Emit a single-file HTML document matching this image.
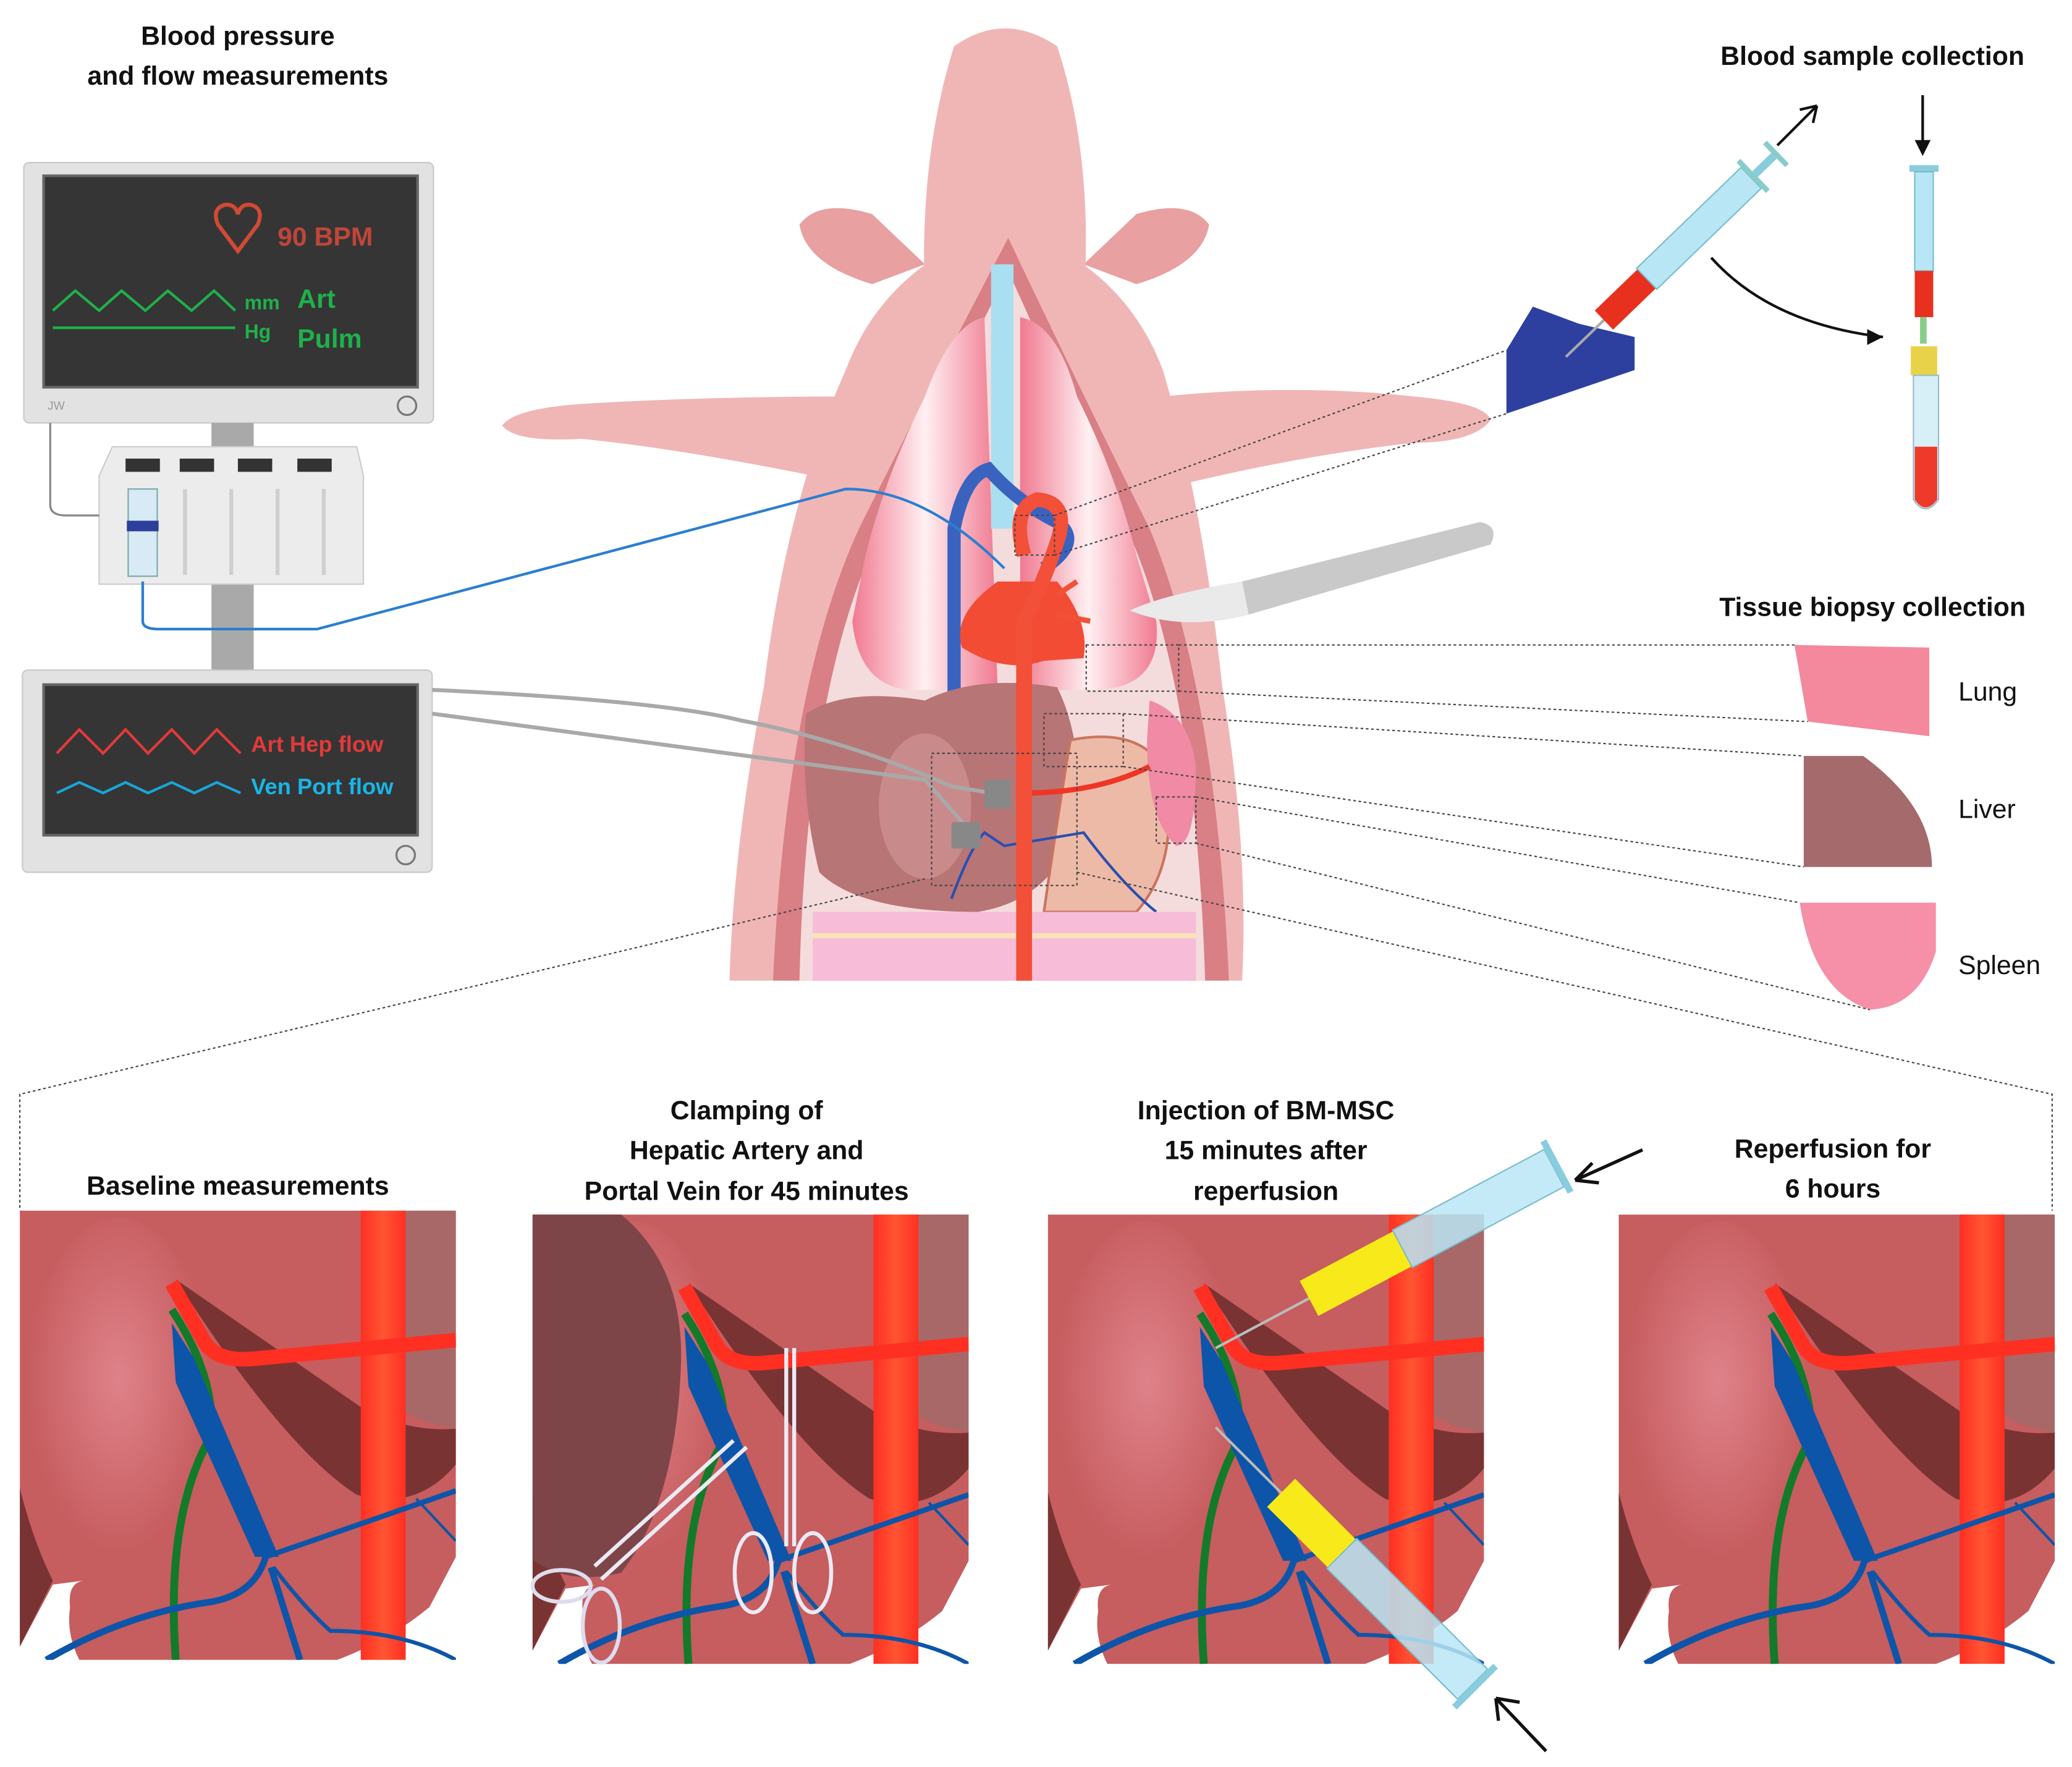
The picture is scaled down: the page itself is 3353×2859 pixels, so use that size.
<!DOCTYPE html>
<html><head><meta charset="utf-8"><style>
html,body{margin:0;padding:0;background:#fff}
svg{display:block}
text{font-family:"Liberation Sans",sans-serif;font-weight:bold;fill:#111}
</style></head><body>
<svg width="3353" height="2859" viewBox="0 0 1568 1337" xmlns="http://www.w3.org/2000/svg">
<defs>
<radialGradient id="lobe" cx="0.5" cy="0.45" r="0.5"><stop offset="0" stop-color="#df828a"/><stop offset="1" stop-color="#c65d5f"/></radialGradient>
<linearGradient id="aor" x1="0" x2="1"><stop offset="0" stop-color="#ff2f22"/><stop offset="0.5" stop-color="#ff5533"/><stop offset="1" stop-color="#ff2f22"/></linearGradient>
<linearGradient id="lung" x1="0" x2="1"><stop offset="0" stop-color="#f07a90"/><stop offset="0.5" stop-color="#fff0f2"/><stop offset="1" stop-color="#f07a90"/></linearGradient>
<clipPath id="pc"><rect x="0" y="0" width="330" height="340"/></clipPath>
<g id="panel" clip-path="url(#pc)">
<path d="M0,0 H330 V262 L310,300 Q280,325 240,340 H45 Q35,320 38,300 Q36,282 48,280 L25,283 L0,330 Z" fill="#c65d5f"/>
<path d="M0,210 Q10,250 25,280 L0,330 Z" fill="#7a3333"/>
<ellipse cx="75" cy="140" rx="70" ry="135" fill="url(#lobe)"/>
<path d="M290,0 H330 V165 Q300,160 290,150 Z" fill="#a86868"/>
<path d="M118,52 L260,150 Q295,168 330,165 V192 Q300,228 255,215 Q200,180 118,52 Z" fill="#7a3333"/>
<rect x="258" y="0" width="34" height="340" fill="url(#aor)"/>
<path d="M115,55 L140,100 Q150,115 178,112 L330,98" stroke="#ff2f22" stroke-width="11" fill="none"/>
<path d="M115,75 Q148,125 145,170 Q110,230 118,340" stroke="#137a2a" stroke-width="6" fill="none"/>
<path d="M115,85 L118,130 L178,262 L196,262 L132,112 Z" fill="#0d55a8"/>
<g stroke="#0d55a8" fill="none">
<path d="M186,262 L330,212" stroke-width="4"/>
<path d="M186,262 Q178,290 145,296 Q80,305 20,340" stroke-width="5"/>
<path d="M190,270 L212,340" stroke-width="5"/>
<path d="M192,270 Q215,300 235,318 Q290,318 330,340" stroke-width="3"/>
<path d="M300,218 L330,250" stroke-width="2"/>
</g>
</g>
</defs>
<rect width="1568" height="1337" fill="#fff"/>

<text x="180" y="34" font-size="20" text-anchor="middle">Blood pressure</text>
<text x="180" y="64" font-size="20" text-anchor="middle">and flow measurements</text>
<text x="1417" y="49" font-size="20" text-anchor="middle">Blood sample collection</text>
<text x="1417" y="466" font-size="20" text-anchor="middle">Tissue biopsy collection</text>
<text x="1482" y="530" font-size="20" style="font-weight:normal">Lung</text>
<text x="1482" y="619" font-size="20" style="font-weight:normal">Liver</text>
<text x="1482" y="737" font-size="20" style="font-weight:normal">Spleen</text>

<!-- monitor 1 -->
<rect x="18" y="123" width="310" height="197" rx="4" fill="#e2e2e2" stroke="#c8c8c8"/>
<rect x="33" y="133" width="283" height="160" fill="#353535" stroke="#666" stroke-width="2"/>
<path d="M180,190 L165,170 Q160,158 170,155 Q178,154 180,162 Q182,154 190,155 Q200,158 195,170 Z" fill="none" stroke="#d04a35" stroke-width="3"/>
<text x="210" y="186" font-size="20" style="fill:#c0453a">90 BPM</text>
<path d="M40,235 L57,220 L75,235 L92,220 L110,235 L127,220 L145,235 L162,220 L178,235" stroke="#1fb14a" stroke-width="2" fill="none"/>
<line x1="40" y1="248" x2="178" y2="248" stroke="#1fb14a" stroke-width="2"/>
<text x="185" y="234" font-size="15" style="fill:#1fb14a">mm</text>
<text x="185" y="256" font-size="15" style="fill:#1fb14a">Hg</text>
<text x="225" y="233" font-size="20" style="fill:#1fb14a">Art</text>
<text x="225" y="263" font-size="20" style="fill:#1fb14a">Pulm</text>
<circle cx="308" cy="307" r="7" fill="none" stroke="#777" stroke-width="1.5"/>
<text x="36" y="310" font-size="9" style="fill:#999;font-weight:normal">JW</text>
<rect x="160" y="320" width="32" height="187" fill="#a9a9a9"/>
<path d="M75,360 L85,338 H270 L275,360 V442 H75 Z" fill="#ececec" stroke="#ccc"/>
<rect x="95" y="347" width="26" height="10" fill="#333"/><rect x="136" y="347" width="26" height="10" fill="#333"/><rect x="180" y="347" width="26" height="10" fill="#333"/><rect x="225" y="347" width="26" height="10" fill="#333"/>
<rect x="97" y="370" width="22" height="66" fill="#d8eaf6" stroke="#7aa" />
<rect x="96" y="394" width="24" height="8" fill="#2c3f9a"/>
<g stroke="#cfcfcf" stroke-width="3"><line x1="140" y1="370" x2="140" y2="435"/><line x1="175" y1="370" x2="175" y2="435"/><line x1="210" y1="370" x2="210" y2="435"/><line x1="245" y1="370" x2="245" y2="435"/></g>
<path d="M38,320 V382 Q38,390 50,390 H75" stroke="#888" fill="none" stroke-width="1.5"/>
<rect x="17" y="507" width="310" height="153" rx="4" fill="#e2e2e2" stroke="#c8c8c8"/>
<rect x="33" y="518" width="283" height="114" fill="#353535" stroke="#666" stroke-width="2"/>
<path d="M43,570 L60,552 L78,570 L95,552 L112,570 L130,552 L147,570 L164,552 L182,570" stroke="#e23a3a" stroke-width="2" fill="none"/>
<path d="M43,600 L60,592 L78,600 L95,592 L112,600 L130,592 L147,600 L164,592 L182,600" stroke="#19a6d8" stroke-width="2" fill="none"/>
<text x="190" y="569" font-size="17" style="fill:#e23a3a">Art Hep flow</text>
<text x="190" y="601" font-size="17" style="fill:#19b5e8">Ven Port flow</text>
<circle cx="307" cy="647" r="7" fill="none" stroke="#777" stroke-width="1.5"/>

<!-- pig -->
<g fill="#f0b6b6">
<path d="M640,300 Q540,300 450,305 Q390,308 380,322 Q390,335 440,332 Q520,340 640,365 Z"/>
<path d="M880,300 Q980,290 1070,300 Q1125,305 1128,318 Q1115,335 1070,335 Q980,345 880,370 Z"/>
<path d="M605,170 Q620,150 660,162 L700,200 L660,215 Q610,200 605,170 Z" fill="#e8a0a0"/>
<path d="M915,170 Q900,150 860,162 L820,200 L860,215 Q910,200 915,170 Z" fill="#e8a0a0"/>
<path d="M700,230 Q695,120 722,35 Q760,8 800,35 Q828,120 820,230 Z"/>
<path d="M760,170 Q670,200 640,280 Q595,380 578,520 Q555,640 552,742 H940 Q945,640 925,520 Q910,380 880,280 Q850,200 760,170 Z"/>
</g>
<path d="M763,180 Q700,300 650,400 Q595,520 585,742 H930 Q920,520 870,400 Q820,300 763,180 Z" fill="#d97f86"/>
<path d="M763,205 Q710,310 665,405 Q610,520 605,742 H912 Q905,520 855,405 Q810,310 763,205 Z" fill="#f5dcdc"/>
<path d="M745,240 Q720,245 700,300 Q670,360 655,420 L645,470 Q650,520 690,522 H755 Z" fill="url(#lung)"/>
<path d="M772,240 Q800,245 815,300 Q845,360 860,420 L875,470 Q880,520 830,522 H772 Z" fill="url(#lung)"/>
<rect x="750" y="200" width="17" height="200" fill="#a9dff0"/>
<path d="M722,530 V400 Q730,360 748,355 Q770,380 800,395 Q820,410 790,430" stroke="#3a63c0" stroke-width="10" fill="none"/>
<path d="M755,440 Q720,465 728,490 Q760,510 790,500 L820,498 Q825,470 800,440 Z" fill="#f24c35"/>
<path d="M775,742 V470 Q790,440 800,410 Q810,380 785,378 Q765,385 775,420" stroke="#f25038" stroke-width="11" fill="none"/>
<path d="M800,450 L815,440 M800,465 L825,470" stroke="#f25038" stroke-width="4"/>
<path d="M610,540 Q640,520 700,530 Q740,510 800,520 Q820,560 815,620 Q800,680 740,690 Q650,690 620,660 Q605,600 610,540 Z" fill="#b87576"/>
<ellipse cx="700" cy="610" rx="35" ry="55" fill="#c98a8c"/>
<path d="M810,560 Q860,550 880,580 Q895,650 860,690 H790 Q800,620 810,560 Z" fill="#eebaa8" stroke="#c8755e" stroke-width="2"/>
<path d="M870,530 Q900,540 905,580 Q905,640 890,640 Q868,620 868,560 Z" fill="#f08aa5"/>
<path d="M775,600 Q830,600 870,580" stroke="#f03525" stroke-width="4" fill="none"/>
<path d="M720,680 Q735,640 745,630 L760,640 L820,630 Q850,670 875,690" stroke="#2a4fb0" stroke-width="2" fill="none"/>
<path d="M615,690 H905 V742 H615 Z" fill="#f6bcd8"/>
<path d="M615,708 H905" stroke="#fbe2b8" stroke-width="4"/>
<rect x="769" y="470" width="12" height="272" fill="#f25038"/>
<!-- cables -->
<path d="M108,440 V470 Q108,476 120,476 H240 L640,370 Q700,370 760,430" stroke="#2a7fd0" fill="none" stroke-width="2"/>
<path d="M327,522 Q500,530 560,545 Q640,560 720,595 L750,600" stroke="#a9a9a9" stroke-width="3" fill="none"/>
<path d="M327,540 Q550,570 700,590 L735,630" stroke="#a9a9a9" stroke-width="3" fill="none"/>
<rect x="745" y="590" width="20" height="22" fill="#888" rx="2"/><rect x="720" y="622" width="22" height="20" fill="#888" rx="2"/>

<path d="M855,462 Q880,450 940,440 L1120,395 Q1135,398 1128,412 L945,465 Q895,478 855,462 Z" fill="#c9c9c9"/>
<path d="M855,462 Q880,450 940,440 L945,465 Q895,478 855,462 Z" fill="#eaeaea"/>
<path d="M1140,265 L1160,232 L1195,245 L1237,255 V280 L1140,313 Z" fill="#2d40a0"/>
<g transform="translate(1185,270) rotate(-44)">
<line x1="0" y1="0" x2="40" y2="0" stroke="#aaa" stroke-width="2"/>
<rect x="40" y="-10" width="45" height="20" fill="#e8301f"/>
<rect x="85" y="-11" width="110" height="22" fill="#b8e6f4" stroke="#7bc"/>
<rect x="195" y="-16" width="4" height="32" fill="#8cc"/>
<rect x="199" y="-3" width="20" height="6" fill="#8cd"/>
<rect x="219" y="-12" width="4" height="24" fill="#8cc"/>
</g>
<path d="M1345,110 L1375,80 M1375,80 L1362,83 M1375,80 L1372,93" stroke="#111" stroke-width="2" fill="none"/>
<path d="M1295,195 Q1340,245 1425,255" stroke="#111" stroke-width="2" fill="none"/>
<path d="M1425,255 L1413,249 L1413,261 Z" fill="#111"/>
<line x1="1455" y1="72" x2="1455" y2="115" stroke="#111" stroke-width="2"/>
<path d="M1455,118 L1449,106 H1461 Z" fill="#111"/>
<rect x="1445" y="125" width="22" height="5" fill="#8cd"/>
<rect x="1449" y="130" width="14" height="75" fill="#b8e6f4" stroke="#7bc"/>
<rect x="1449" y="205" width="14" height="35" fill="#e8301f"/>
<rect x="1453" y="240" width="5" height="20" fill="#8c8"/>
<rect x="1446" y="262" width="20" height="22" fill="#e8d24a"/>
<path d="M1448,284 V378 Q1457,392 1467,378 V284 Z" fill="#d7f0f8" stroke="#9bc"/>
<path d="M1449,338 V378 Q1457,390 1466,378 V338 Z" fill="#ee3a2a"/>

<path d="M1358,488 L1460,490 V557 L1368,546 Z" fill="#f4889c"/>
<path d="M1365,572 H1410 Q1462,610 1462,656 H1365 Z" fill="#a46a6c"/>
<path d="M1362,683 H1465 V720 Q1452,762 1415,764 Q1372,750 1362,683 Z" fill="#f590a8"/>

<g stroke="#444" stroke-width="1" stroke-dasharray="2,2" fill="none">
<rect x="768" y="390" width="30" height="30"/>
<path d="M798,390 L1140,265 M798,420 L1140,313"/>
<rect x="822" y="488" width="70" height="35"/>
<path d="M892,488 H1358 M892,523 L1368,546"/>
<rect x="790" y="540" width="60" height="40"/>
<path d="M850,540 L1365,572 M850,580 L1365,656"/>
<rect x="875" y="603" width="30" height="35"/>
<path d="M905,603 L1362,683 M905,638 L1415,764"/>
<rect x="705" y="570" width="110" height="100"/>
<path d="M700,665 L15,828 V916 M815,660 L1553,828 V916"/>
</g>

<use href="#panel" x="15" y="916"/>
<use href="#panel" x="403" y="919"/>
<use href="#panel" x="793" y="919"/>
<use href="#panel" x="1225" y="919"/>
<path d="M403,919 H470 Q520,960 515,1040 Q510,1140 470,1190 Q430,1200 403,1180 Z" fill="#7e4548"/>
<g stroke="#eaeaf4" stroke-width="3" fill="none">
<path d="M565,1095 L455,1195"/><path d="M555,1090 L450,1185"/>
<ellipse cx="425" cy="1200" rx="22" ry="12" stroke="#dde"/><ellipse cx="455" cy="1230" rx="14" ry="28" stroke="#dde"/>
<path d="M595,1020 V1170 M601,1020 V1170"/>
<ellipse cx="570" cy="1190" rx="14" ry="30"/><ellipse cx="615" cy="1190" rx="14" ry="30"/>
</g>
<g transform="translate(920,1020) rotate(-28)">
<line x1="0" y1="0" x2="80" y2="0" stroke="#bbb" stroke-width="2"/>
<rect x="80" y="-15" width="80" height="30" fill="#f8ea1a"/>
<rect x="160" y="-16" width="130" height="32" fill="#b8e6f4" fill-opacity="0.85" stroke="#7bc"/>
<rect x="290" y="-22" width="5" height="44" fill="#8cd"/>
</g>
<g transform="translate(920,1080) rotate(45)">
<line x1="0" y1="0" x2="70" y2="0" stroke="#bbb" stroke-width="2"/>
<rect x="70" y="-15" width="65" height="30" fill="#f8ea1a"/>
<rect x="135" y="-16" width="140" height="32" fill="#b8e6f4" fill-opacity="0.85" stroke="#7bc"/>
<rect x="275" y="-22" width="5" height="44" fill="#8cd"/>
</g>
<path d="M1243,870 L1192,893 M1192,893 L1205,880 M1192,893 L1210,895" stroke="#111" stroke-width="2.5" fill="none"/>
<path d="M1170,1325 L1132,1285 M1132,1285 L1134,1302 M1132,1285 L1150,1288" stroke="#111" stroke-width="2.5" fill="none"/>

<text x="180" y="904" font-size="20" text-anchor="middle">Baseline measurements</text>
<text x="565" y="847" font-size="20" text-anchor="middle">Clamping of</text>
<text x="565" y="877" font-size="20" text-anchor="middle">Hepatic Artery and</text>
<text x="565" y="908" font-size="20" text-anchor="middle">Portal Vein for 45 minutes</text>
<text x="958" y="847" font-size="20" text-anchor="middle">Injection of BM-MSC</text>
<text x="958" y="877" font-size="20" text-anchor="middle">15 minutes after</text>
<text x="958" y="908" font-size="20" text-anchor="middle">reperfusion</text>
<text x="1387" y="876" font-size="20" text-anchor="middle">Reperfusion for</text>
<text x="1387" y="906" font-size="20" text-anchor="middle">6 hours</text>
</svg>
</body></html>
